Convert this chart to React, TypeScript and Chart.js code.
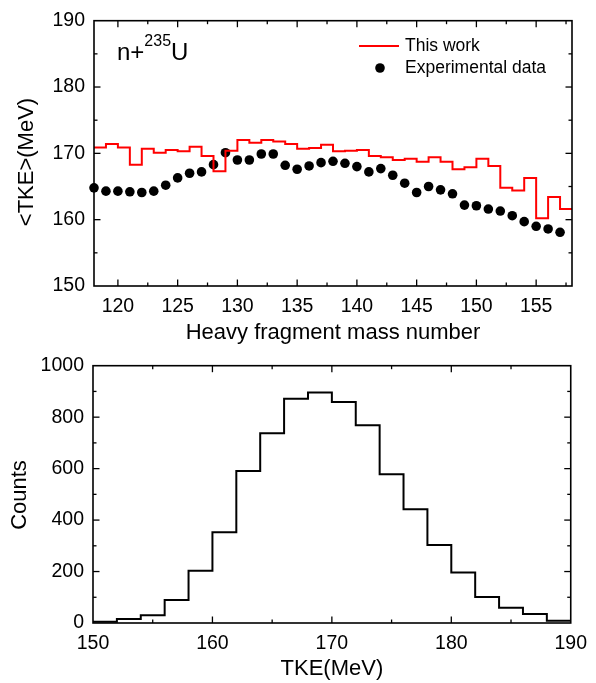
import React, { useEffect, useRef } from 'react';
import { Chart, registerables } from 'chart.js';

Chart.register(...registerables);

const FONT = '"Liberation Sans", Arial, Helvetica, sans-serif';

// ---------- top panel data ----------
const massNumbers = [
  118, 119, 120, 121, 122, 123, 124, 125, 126, 127,
  128, 129, 130, 131, 132, 133, 134, 135, 136, 137,
  138, 139, 140, 141, 142, 143, 144, 145, 146, 147,
  148, 149, 150, 151, 152, 153, 154, 155, 156, 157,
];
const experimentalTKE = [
  164.8, 164.3, 164.3, 164.2, 164.1, 164.3, 165.2, 166.3, 167.0, 167.2,
  168.3, 170.1, 169.0, 169.0, 169.9, 169.9, 168.2, 167.6, 168.1, 168.6,
  168.8, 168.5, 168.0, 167.2, 167.7, 166.7, 165.5, 164.1, 165.0, 164.5,
  163.9, 162.2, 162.1, 161.6, 161.3, 160.6, 159.7, 159.0, 158.6, 158.1,
];
const thisWorkTKE = [
  170.9, 171.4, 170.9, 168.3, 170.7, 170.1, 170.5, 170.3, 171.0, 169.6,
  167.3, 170.4, 172.0, 171.6, 172.0, 171.8, 171.4, 170.7, 170.8, 171.3,
  170.3, 170.4, 170.5, 169.6, 169.4, 169.0, 169.2, 168.75, 169.4, 168.75,
  167.6, 167.9, 169.2, 168.1, 164.8, 164.4, 166.3, 160.2, 163.4, 161.6,
];
const topXTicks = [120, 125, 130, 135, 140, 145, 150, 155];
const topYTicks = [150, 160, 170, 180, 190];

// ---------- bottom panel data ----------
const tkeBinStarts = [
  150, 152, 154, 156, 158, 160, 162, 164, 166, 168,
  170, 172, 174, 176, 178, 180, 182, 184, 186, 188,
];
const binCounts = [
  5, 16, 30, 89, 203, 353, 591, 737, 872, 896,
  859, 769, 578, 442, 303, 196, 101, 59, 35, 9,
];
const binWidth = 2;
const bottomXTicks = [150, 160, 170, 180, 190];
const bottomYTicks = [0, 200, 400, 600, 800, 1000];

type FrameCfg = {
  xMajor: number[];
  yMajor: number[];
  xTitle: string;
  yTitle: string;
  xTitleY: number;
  yTitleX: number;
  yTitleY: number;
  extra?: (chart: any) => void;
};

function minorsOf(major: number[], lo: number, hi: number) {
  const out: number[] = [];
  const step = major[1] - major[0];
  for (let v = major[0] - step / 2; v >= lo - 1e-9; v -= step) out.push(v);
  for (let i = 0; i < major.length; i++) {
    const m = major[i] + step / 2;
    if (m <= hi + 1e-9) out.push(m);
  }
  return out;
}

function framePlugin(cfg: FrameCfg) {
  return {
    id: 'frameTicks',
    afterDatasetsDraw(chart: any) {
      const { ctx, chartArea: a, scales } = chart;
      const xs = scales.x;
      const ys = scales.y;
      ctx.save();
      ctx.strokeStyle = '#000';
      ctx.lineWidth = 1.6;
      ctx.strokeRect(a.left, a.top, a.right - a.left, a.bottom - a.top);
      ctx.lineWidth = 1.3;
      const seg = (x1: number, y1: number, x2: number, y2: number) => {
        ctx.beginPath();
        ctx.moveTo(x1, y1);
        ctx.lineTo(x2, y2);
        ctx.stroke();
      };
      const xMin = xs.min, xMax = xs.max, yMin = ys.min, yMax = ys.max;
      const xTicks = cfg.xMajor.map((v) => [v, 6.5] as [number, number]).concat(
        minorsOf(cfg.xMajor, xMin, xMax).map((v) => [v, 3.5] as [number, number])
      );
      xTicks.forEach(([v, len]) => {
        if (v <= xMin || v >= xMax) return;
        const px = xs.getPixelForValue(v);
        seg(px, a.bottom, px, a.bottom - len);
        seg(px, a.top, px, a.top + len);
      });
      const yTicks = cfg.yMajor.map((v) => [v, 6.5] as [number, number]).concat(
        minorsOf(cfg.yMajor, yMin, yMax).map((v) => [v, 3.5] as [number, number])
      );
      yTicks.forEach(([v, len]) => {
        if (v <= yMin || v >= yMax) return;
        const py = ys.getPixelForValue(v);
        seg(a.left, py, a.left + len, py);
        seg(a.right, py, a.right - len, py);
      });
      // axis titles
      ctx.fillStyle = '#000';
      ctx.font = `22px ${FONT}`;
      ctx.textAlign = 'center';
      ctx.textBaseline = 'middle';
      ctx.fillText(cfg.xTitle, (a.left + a.right) / 2, cfg.xTitleY);
      ctx.save();
      ctx.translate(cfg.yTitleX, cfg.yTitleY);
      ctx.rotate(-Math.PI / 2);
      ctx.fillText(cfg.yTitle, 0, 0);
      ctx.restore();
      if (cfg.extra) cfg.extra(chart);
      ctx.restore();
    },
  };
}

const tickFont = { family: FONT, size: 19.5 };
const plainLabel = (v: any) => String(v);

function topConfig(): any {
  const expPoints = massNumbers.map((m, i) => ({ x: m, y: experimentalTKE[i] }));
  const workPoints = massNumbers.map((m, i) => ({ x: m, y: thisWorkTKE[i] }));
  workPoints.push({
    x: massNumbers[massNumbers.length - 1] + 1,
    y: thisWorkTKE[thisWorkTKE.length - 1],
  });
  return {
    type: 'scatter',
    data: {
      datasets: [
        {
          label: 'This work',
          data: workPoints,
          showLine: true,
          stepped: 'before',
          borderColor: '#ff0000',
          backgroundColor: '#ff0000',
          borderWidth: 2,
          pointRadius: 0,
          fill: false,
        },
        {
          label: 'Experimental data',
          data: expPoints,
          showLine: false,
          pointRadius: 4.8,
          pointBackgroundColor: '#000',
          pointBorderColor: '#000',
          pointBorderWidth: 0,
          clip: false,
        },
      ],
    },
    options: {
      responsive: false,
      animation: false,
      devicePixelRatio: 1,
      layout: { padding: { top: 17, right: 24, left: 0, bottom: 0 } },
      plugins: { legend: { display: false }, tooltip: { enabled: false } },
      scales: {
        x: {
          type: 'linear',
          min: 118,
          max: 158,
          afterBuildTicks: (s: any) => {
            s.ticks = topXTicks.map((v) => ({ value: v }));
          },
          afterFit: (s: any) => {
            s.height = 59;
          },
          grid: { display: false, drawTicks: false },
          border: { display: false },
          ticks: { autoSkip: false, maxRotation: 0, padding: 9, color: '#000', font: tickFont, callback: plainLabel },
        },
        y: {
          type: 'linear',
          min: 150,
          max: 190,
          afterBuildTicks: (s: any) => {
            s.ticks = topYTicks.map((v) => ({ value: v }));
          },
          afterFit: (s: any) => {
            s.width = 94;
          },
          grid: { display: false, drawTicks: false },
          border: { display: false },
          ticks: { padding: 9, color: '#000', font: tickFont, callback: plainLabel },
        },
      },
    },
    plugins: [
      framePlugin({
        xMajor: topXTicks,
        yMajor: topYTicks,
        xTitle: 'Heavy fragment mass number',
        yTitle: '<TKE>(MeV)',
        xTitleY: 333,
        yTitleX: 27,
        yTitleY: 162,
        extra: (chart: any) => {
          const ctx = chart.ctx;
          const ds = chart.data.datasets;
          // legend
          ctx.strokeStyle = '#ff0000';
          ctx.lineWidth = 2;
          ctx.beginPath();
          ctx.moveTo(359, 46);
          ctx.lineTo(399, 46);
          ctx.stroke();
          ctx.fillStyle = '#000';
          ctx.beginPath();
          ctx.arc(380, 68, 4.8, 0, Math.PI * 2);
          ctx.fill();
          ctx.font = `17.5px ${FONT}`;
          ctx.textAlign = 'left';
          ctx.textBaseline = 'middle';
          ctx.fillText(ds[0].label, 405, 46);
          ctx.fillText(ds[1].label, 405, 68);
          // reaction label n+235U
          ctx.textBaseline = 'alphabetic';
          ctx.font = `24px ${FONT}`;
          ctx.fillText('n+', 117, 60);
          const w1 = ctx.measureText('n+').width;
          ctx.font = `16px ${FONT}`;
          ctx.fillText('235', 117 + w1, 46);
          const w2 = ctx.measureText('235').width;
          ctx.font = `24px ${FONT}`;
          ctx.fillText('U', 117 + w1 + w2, 60);
        },
      }),
    ],
  };
}

function bottomConfig(): any {
  const pts = tkeBinStarts.map((x, i) => ({ x, y: binCounts[i] }));
  pts.push({
    x: tkeBinStarts[tkeBinStarts.length - 1] + binWidth,
    y: binCounts[binCounts.length - 1],
  });
  return {
    type: 'scatter',
    data: {
      datasets: [
        {
          label: 'Counts',
          data: pts,
          showLine: true,
          stepped: 'before',
          borderColor: '#000',
          borderWidth: 2,
          pointRadius: 0,
          fill: false,
        },
      ],
    },
    options: {
      responsive: false,
      animation: false,
      devicePixelRatio: 1,
      layout: { padding: { top: 12, right: 25, left: 0, bottom: 0 } },
      plugins: { legend: { display: false }, tooltip: { enabled: false } },
      scales: {
        x: {
          type: 'linear',
          min: 150,
          max: 190,
          afterBuildTicks: (s: any) => {
            s.ticks = bottomXTicks.map((v) => ({ value: v }));
          },
          afterFit: (s: any) => {
            s.height = 60;
          },
          grid: { display: false, drawTicks: false },
          border: { display: false },
          ticks: { autoSkip: false, maxRotation: 0, padding: 9, color: '#000', font: tickFont, callback: plainLabel },
        },
        y: {
          type: 'linear',
          min: 0,
          max: 1000,
          afterBuildTicks: (s: any) => {
            s.ticks = bottomYTicks.map((v) => ({ value: v }));
          },
          afterFit: (s: any) => {
            s.width = 93;
          },
          grid: { display: false, drawTicks: false },
          border: { display: false },
          ticks: { padding: 9, color: '#000', font: tickFont, callback: plainLabel },
        },
      },
    },
    plugins: [
      framePlugin({
        xMajor: bottomXTicks,
        yMajor: bottomYTicks,
        xTitle: 'TKE(MeV)',
        yTitle: 'Counts',
        xTitleY: 324,
        yTitleX: 20,
        yTitleY: 150,
      }),
    ],
  };
}

export default function App() {
  const topRef = useRef<HTMLCanvasElement>(null);
  const botRef = useRef<HTMLCanvasElement>(null);
  useEffect(() => {
    const c1 = new Chart(topRef.current as HTMLCanvasElement, topConfig());
    const c2 = new Chart(botRef.current as HTMLCanvasElement, bottomConfig());
    return () => {
      c1.destroy();
      c2.destroy();
    };
  }, []);
  return (
    <div style={{ position: 'absolute', left: 0, top: 0, width: 596, height: 683, background: '#fff' }}>
      <canvas
        ref={topRef}
        width={596}
        height={345}
        style={{ position: 'absolute', left: 0, top: 0, width: 596, height: 345 }}
      />
      <canvas
        ref={botRef}
        width={596}
        height={338}
        style={{ position: 'absolute', left: 0, top: 345, width: 596, height: 338 }}
      />
    </div>
  );
}
